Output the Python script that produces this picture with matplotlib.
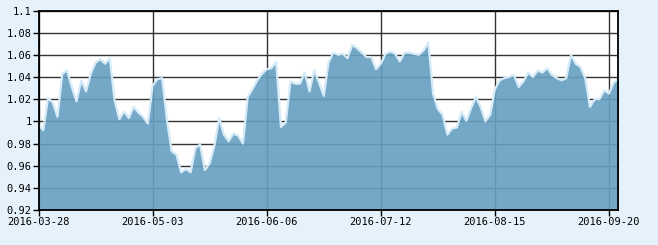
import matplotlib
matplotlib.use("Agg")
import matplotlib.pyplot as plt

values = [
    0.997, 0.992, 1.021, 1.017, 1.004, 1.043, 1.046, 1.031, 1.018, 1.037,
    1.027, 1.043, 1.053, 1.056, 1.052, 1.057, 1.019, 1.002, 1.009, 1.003,
    1.013, 1.008, 1.004, 0.998, 1.032, 1.038, 1.039, 1.002, 0.973, 0.970,
    0.954, 0.957, 0.954, 0.976, 0.979, 0.956, 0.962, 0.978, 1.003, 0.988,
    0.982, 0.989, 0.987, 0.980, 1.022, 1.029, 1.037, 1.043, 1.047, 1.048,
    1.054, 0.995, 0.999, 1.036, 1.034, 1.034, 1.044, 1.027, 1.046, 1.035,
    1.023, 1.053, 1.062, 1.060, 1.061, 1.057, 1.069, 1.066, 1.062, 1.058,
    1.058, 1.047, 1.052, 1.061, 1.063, 1.061, 1.054, 1.062, 1.062, 1.061,
    1.060, 1.064, 1.071, 1.025, 1.011, 1.006, 0.988, 0.9935, 0.9945, 1.0087,
    1.0005, 1.012, 1.022, 1.013, 1.000, 1.006, 1.029, 1.037, 1.039, 1.040,
    1.042, 1.031, 1.036, 1.044, 1.040, 1.046, 1.044, 1.048, 1.042, 1.039,
    1.037, 1.039, 1.060, 1.052, 1.049, 1.039, 1.013, 1.020, 1.020, 1.028,
    1.025, 1.035, 1.038,
]
x_tick_labels = ["2016-03-28", "2016-05-03", "2016-06-06", "2016-07-12", "2016-08-15", "2016-09-20"]
x_tick_step = 24
y_ticks = [0.92, 0.94, 0.96, 0.98, 1.0, 1.02, 1.04, 1.06, 1.08, 1.1]
y_tick_labels = ["0.92", "0.94", "0.96", "0.98", "1", "1.02", "1.04", "1.06", "1.08", "1.1"]

xs = list(range(len(values)))

fig = plt.figure(figsize=(6.58, 2.45), dpi=100)
fig.patch.set_facecolor("#e6f2fb")
ax = fig.add_axes([38.5 / 658, 1 - 210 / 245, (618.5 - 38.5) / 658, (210 - 10.5) / 245])
ax.set_facecolor("white")

ax.set_xlim(0, len(values) - 1)
ax.set_ylim(0.92, 1.1)

xt = [i * x_tick_step for i in range(len(x_tick_labels))]
ax.set_xticks(xt)
ax.set_xticklabels(x_tick_labels)
ax.set_yticks(y_ticks)
ax.set_yticklabels(y_tick_labels)

ax.grid(True, color="#333333", linewidth=1.0, zorder=1)
ax.set_axisbelow(True)

ax.fill_between(xs, 0.92, values, color="#669fc0", alpha=0.9, linewidth=0, zorder=2)
ax.plot(xs, values, color="#d6ebf8", linewidth=1.6, zorder=3, solid_joinstyle="round")

for s in ax.spines.values():
    s.set_color("black")
    s.set_linewidth(1.3)
    s.set_zorder(5)

ax.tick_params(axis="both", colors="black", length=4, width=1, labelsize=7.5, pad=1)
for lab in ax.get_xticklabels() + ax.get_yticklabels():
    lab.set_family("DejaVu Sans Mono")

fig.savefig("out.png", dpi=100, facecolor=fig.get_facecolor())
